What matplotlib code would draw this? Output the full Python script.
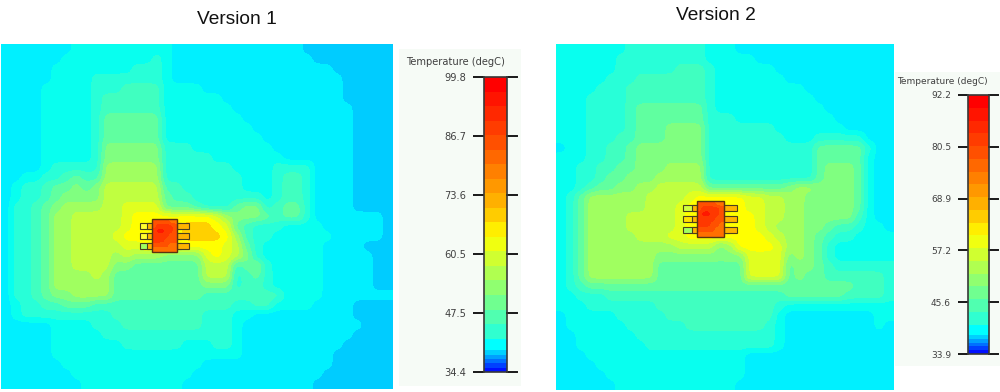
# Thermal maps of two board versions with their temperature scales

import numpy as np
import matplotlib
matplotlib.use('Agg')
import matplotlib.pyplot as plt
from matplotlib.colors import ListedColormap
from matplotlib.patches import Rectangle

W, H = 1000, 392

# Temperature band per map cell (hex digit, 10 px cells), rows run top to bottom
bands_v1 = [
    "1111111222 2222222111 1111111111 000000000",
    "1111112222 2222232111 1111111111 100000000",
    "1111122222 2223332111 1111111111 111000000",
    "1111122223 3333332111 1111111111 111100000",
    "1111222223 3344442222 1111111111 111100000",
    "1111222223 4444442222 2211111111 111100000",
    "1111222223 4444442222 2221111111 111110000",
    "1111222223 5555552222 2222111111 111110000",
    "1111222223 5555552222 2222211111 111110000",
    "1111222223 5555552222 2222221111 111110000",
    "1111222223 6666663332 2222222111 111110000",
    "1111222223 6666663333 3222222211 111110000",
    "1111233333 7777773333 3332222333 311110000",
    "1122334544 7777773333 3333222344 311110000",
    "1233455656 8888884433 3333222344 311110000",
    "1233456666 8888885443 3333332344 311110000",
    "1334567777 8899995554 3335663455 311110000",
    "1334577888 889aaaaaaa a976665455 311111110",
    "1334577888 889aaaaabb ba95433322 221111110",
    "1334577888 89aaaaaabb bba7433222 222111110",
    "1334577888 8899aaaaaa aa98532222 221111000",
    "1334577888 8787776666 9a98632222 221111100",
    "1334577888 8665555555 8884563222 221111100",
    "1334577778 7555555555 8883453222 221111100",
    "1334577777 7555555555 6663443222 221111100",
    "1334566777 7555555555 4444444422 221111111",
    "1233445554 4444444444 4443344222 211110000",
    "1233333333 3444444444 3332211111 111110000",
    "1111122223 3344444444 3332111111 111111000",
    "1111122222 3333333333 3332111111 111110000",
    "1111122222 2233333322 2332111111 111100000",
    "1111122222 2222222222 2222111111 111000000",
    "1111112222 2222222222 1111111111 111000000",
    "1111111222 2222222221 1111111111 110000000",
    "1111111122 2222222211 1111111111 100000000",
]
bands_v2 = [
    "2222222333 3333322211 1111111111 1111",
    "2222223333 3333322222 1111111111 1111",
    "2222223333 3344432222 2211111111 1111",
    "2222233344 4444432222 2221111111 1111",
    "2222333444 4444432222 2222211111 1111",
    "2223333444 4444432222 2222221111 1111",
    "2223333455 5555532222 2222222111 1111",
    "2223333455 5555533322 2222222211 1111",
    "2223333455 5666633333 3322222221 1111",
    "2223334455 5666633333 3332223333 3111",
    "1223344566 6666633333 3333335555 5311",
    "2223344566 6666633333 3333335555 5211",
    "2233445566 6777733333 3333335666 5211",
    "2233455666 7777733333 3333335666 5211",
    "2234556677 8888855555 5556776666 5211",
    "2357777778 8889aaaaa9 9887766666 5211",
    "2357777778 889aaaaaa9 9887766666 5211",
    "2357777888 889aaaaaaa 9887766666 4211",
    "2357777888 889aaaaaaa 9877766544 3221",
    "2357777788 899aaaaaaa a987765433 2222",
    "2357777777 77888867aa aa97765322 2222",
    "2357777777 6666666669 9996765322 2222",
    "2357777777 5555555559 9995665433 3333",
    "2357777777 5555555559 9995655444 4443",
    "2345555555 5555555555 5555555555 4443",
    "2233344444 4444444444 4445555554 4443",
    "2223333333 4444444444 4432222222 2222",
    "1222223333 3444444444 4421111111 1122",
    "1222222333 3334444444 4321111111 1121",
    "1122222233 3333333333 3321111111 1111",
    "1122222223 3333333333 3321111111 1111",
    "1112222222 2222222221 1111111111 1111",
    "1111222222 2222222221 1111111111 1111",
    "1111122222 2222222221 1111111111 1111",
    "1111112222 2222222211 1111111111 1111",
]

# Bands on the package body
chip_v1 = ["ddddcc", "deeeed", "effeed", "eeeedd", "eeeddd", "ddddcc", "cccccc"]
chip_v2 = ["ddddcc", "deeeed", "effeed", "eeeedd", "eeeddc", "ddddcc", "cccccc"]

map_colors = ['#00ccff', '#00f0ff', '#08ffef', '#28ffd8', '#40ffc0', '#60ffa0',
              '#80ff80', '#a0ff60', '#c0ff40', '#e0ff20', '#ffff00', '#ffd000',
              '#ff7000', '#ff5000', '#ff3800', '#ff1800']

bar_colors = ['#0010ff', '#0040ff', '#0070ff', '#00a0ff', '#00d0ff', '#00ffff',
              '#30ffd0', '#50ffb0', '#70ff90', '#90ff70', '#b0ff50', '#d0ff30',
              '#f0ff10', '#ffee00', '#ffcc00', '#ffb000', '#ff9800', '#ff8000',
              '#ff6800', '#ff5000', '#ff3c00', '#ff2800', '#ff1400', '#ff0000']
bar_heights = [0.3, 0.3, 0.3, 0.3, 0.3, 0.8] + [1] * 18

ticks_v1 = [34.4, 47.5, 60.5, 73.6, 86.7, 99.8]
ticks_v2 = [33.9, 45.6, 57.2, 68.9, 80.5, 92.2]

cmap = ListedColormap(map_colors)


def px_axes(x0, y0, x1, y1):
    # axes from picture pixels, y counted from the top
    return plt.gcf().add_axes([x0 / W, 1 - y1 / H, (x1 - x0) / W, (y1 - y0) / H])


def parse(rows):
    return np.array([[int(c, 16) for c in r.replace(' ', '')] for r in rows])


def draw_map(box, rows, chip_rows, chip_box, pin_x, pin_y, pin_fill):
    ax = px_axes(*box)
    ax.axis('off')
    ax.imshow(parse(rows), cmap=cmap, vmin=-0.5, vmax=len(map_colors) - 0.5, aspect='auto',
              interpolation='gaussian', interpolation_stage='data',
              extent=(box[0], box[2], box[3], box[1]))

    # pins go under the package
    l, r, t, b = chip_box
    for y, fills in zip(pin_y, pin_fill):
        ax.add_patch(Rectangle((pin_x[0], y), l - pin_x[0], 6.5, fc=fills[0], ec='#4a4020', lw=0.8))
        ax.add_patch(Rectangle((pin_x[1], y), l - pin_x[1], 6.5, fc='#ffb400', ec='#4a4020', lw=0.8))
        ax.add_patch(Rectangle((r, y), pin_x[3] - r, 6.5, fc=fills[1], ec='#4a4020', lw=0.8))
        ax.add_patch(Rectangle((r, y), pin_x[2] - r, 6.5, fc='#ffb400', ec='#4a4020', lw=0.8))

    ax.imshow(parse(chip_rows), cmap=cmap, vmin=-0.5, vmax=len(map_colors) - 0.5, aspect='auto',
              interpolation='gaussian', interpolation_stage='data',
              extent=(l, r, b, t), zorder=3)
    ax.add_patch(Rectangle((l, t), r - l, b - t, fc='none', ec='#5a3410', lw=1.0, zorder=4))
    ax.set_xlim(box[0], box[2])
    ax.set_ylim(box[3], box[1])


def draw_scale(panel, bar, ticks, title_xy, tick_px, right_px, size):
    fig = plt.gcf()
    fig.add_artist(Rectangle((panel[0] / W, 1 - panel[3] / H),
                             (panel[2] - panel[0]) / W, (panel[3] - panel[1]) / H,
                             transform=fig.transFigure, fc='#f6fbf6', ec='none', zorder=-1))
    fig.text(title_xy[0] / W, 1 - title_xy[1] / H, 'Temperature (degC)', fontsize=size,
             color='#404040', ha='left', va='center')
    ax = px_axes(*bar)
    edges = ticks[0] + np.cumsum([0] + bar_heights) / sum(bar_heights) * (ticks[-1] - ticks[0])
    for low, high, color in zip(edges[:-1], edges[1:], bar_colors):
        ax.axhspan(low, high, color=color, lw=0)
    ax.set_ylim(ticks[0], ticks[-1])
    ax.set_xticks([])
    ax.set_yticks(ticks)
    ax.set_yticklabels([f'{t:.1f}' for t in ticks], fontsize=size, color='#404040')
    ax.tick_params(axis='y', length=tick_px * 0.72, width=1.4, color='#181818', pad=5)
    for side in ax.spines:
        ax.spines[side].set_color('#383838')
        ax.spines[side].set_linewidth(1.2)
    # same marks on the right of the bar
    for t in ticks:
        ax.plot([1, 1 + right_px / (bar[2] - bar[0])], [t, t], color='#181818', lw=1.4,
                transform=ax.get_yaxis_transform(), clip_on=False)


fig = plt.figure(figsize=(W / 100, H / 100), dpi=100, facecolor='white')
plt.rcParams['font.family'] = ['DejaVu Sans']

fig.text(236.5 / W, 1 - 20 / H, 'Version 1', fontsize=13.8, family='Liberation Sans',
         color='#111111', ha='center', va='center')
fig.text(716 / W, 1 - 16 / H, 'Version 2', fontsize=13.8, family='Liberation Sans',
         color='#111111', ha='center', va='center')

draw_map((1, 44, 393, 389), bands_v1, chip_v1, (152, 177, 219, 252), (140, 147.5, 189, 181),
         [222.5, 232.5, 242.5],
         [('#ffff30', '#ffb400'), ('#ffff30', '#ffb400'), ('#a0ff60', '#ffb400')])
draw_map((556, 44, 894, 390), bands_v2, chip_v2, (697, 724, 201, 237), (683.5, 692.5, 737, 729),
         [204.5, 215.5, 226.5],
         [('#d0ff40', '#e0ff20'), ('#ffe000', '#ffe000'), ('#a0ff60', '#d0ff40')])

draw_scale((399, 49, 521, 386), (484, 77, 507, 372), ticks_v1, (406, 62), 11, 10, 7.1)
draw_scale((895, 72, 1000, 366), (968, 95, 989, 354), ticks_v2, (897, 82), 10, 9, 6.5)

plt.savefig('out.png', dpi=100)
plt.close()
